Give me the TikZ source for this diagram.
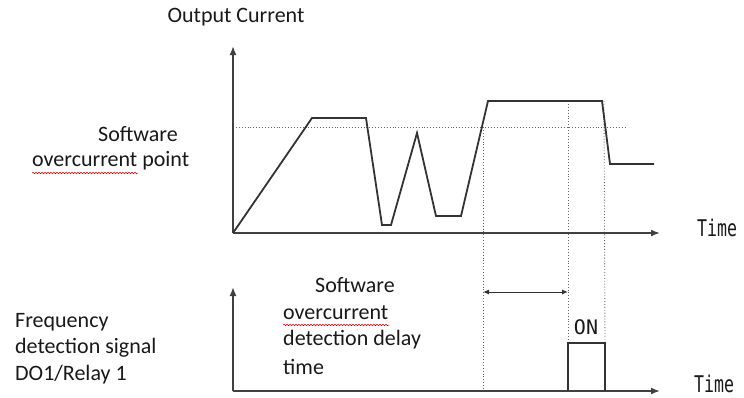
\documentclass[tikz,border=0pt]{standalone}
\usepackage{fontspec}
\setmainfont{Carlito}
\newfontfamily\monofam{DejaVu Sans Mono}
\usetikzlibrary{arrows.meta,decorations.pathmorphing}
\begin{document}
\begin{tikzpicture}[x=1pt,y=-1pt,
  axis/.style={draw=black!75,line width=1.7pt,-{Latex[length=9pt,width=7pt]}},
  wave/.style={draw=black!80,line width=1.8pt,line join=miter},
  guide/.style={draw=black!60,line width=0.9pt,dotted},
  lbl/.style={font=\fontsize{22}{26}\selectfont,text=black!90,inner sep=0pt},
  monolbl/.style={font=\monofam\fontsize{23}{27}\selectfont,text=black!90,inner sep=0pt},
  spell/.style={draw=red!80!black,line width=0.5pt,decorate,decoration={snake,amplitude=0.8pt,segment length=3pt}}]
\useasboundingbox (0,0) rectangle (744,397);
% ---- top chart coordinates
\coordinate (o1) at (233,233);
\coordinate (y1) at (233,46);
\coordinate (x1) at (660,233);
\coordinate (w1) at (312,118);
\coordinate (w2) at (366,118);
\coordinate (w3) at (382,225);
\coordinate (w4) at (391,225);
\coordinate (w5) at (417,133);
\coordinate (w6) at (436,216);
\coordinate (w7) at (461,216);
\coordinate (w8) at (488,101);
\coordinate (w9) at (602,101);
\coordinate (w10) at (610,164);
\coordinate (w11) at (654,164);
\coordinate (thA) at (233,127);
\coordinate (thB) at (625,127);
% ---- bottom chart coordinates
\coordinate (o2) at (233,391);
\coordinate (y2) at (233,287);
\coordinate (x2) at (660,391);
\coordinate (p1) at (568,391);
\coordinate (p2) at (568,343);
\coordinate (p3) at (605,343);
\coordinate (p4) at (605,391);
% guides
\coordinate (g1t) at (483,127);
\coordinate (g1b) at (483,391);
\coordinate (g2t) at (568,101);
\coordinate (g3t) at (604,101);
\coordinate (da) at (483,292);
\coordinate (db) at (568,292);
% dotted lines
\draw[guide] (thA) -- (thB);
\draw[guide] (g1t) -- (g1b);
\draw[guide] (g2t) -- (p1);
\draw[guide] (g3t) -- (p3);
% axes
\draw[axis] (o1) -- (y1);
\draw[axis] (o1) -- (x1);
\draw[axis] (o2) -- (y2);
\draw[axis] (o2) -- (x2);
% waveform
\draw[wave] (o1) -- (w1) -- (w2) -- (w3) -- (w4) -- (w5) -- (w6) -- (w7) -- (w8) -- (w9) -- (w10) -- (w11);
% pulse
\draw[wave] (p1) -- (p2) -- (p3) -- (p4);
% delay arrow
\draw[draw=black!80,line width=1pt,{Latex[length=6pt,width=5pt]}-{Latex[length=6pt,width=5pt]}] (da) -- (db);
% labels
\node[lbl] (oc) at (236,17) {Output Current};
\node[lbl] (sw1) at (138,134) {Software};
\node[lbl,anchor=west] (sw2) at (32,161) {overcurrent point};
\draw[spell] (32,173) -- (138,173);
\node[lbl] (sw3) at (355,285) {Software};
\node[lbl,anchor=west] (sw4) at (283,313) {overcurrent};
\draw[spell] (283,325) -- (389,325);
\node[lbl,anchor=west] (sw5) at (283,340) {detection delay};
\node[lbl,anchor=west] (sw6) at (283,367) {time};
\node[lbl,anchor=west] (fd1) at (15,322) {Frequency};
\node[lbl,anchor=west] (fd2) at (15,348) {detection signal};
\node[lbl,anchor=west] (fd3) at (15,375) {DO1/Relay 1};
\node[monolbl,anchor=base west] (t1) at (697,236) {\scalebox{0.72}[1]{Time}};
\node[monolbl,anchor=base west] (t2) at (694,392) {\scalebox{0.72}[1]{Time}};
\node[monolbl,anchor=base,font=\monofam\fontsize{20}{24}\selectfont] (on) at (586,334) {ON};
\end{tikzpicture}
\end{document}
